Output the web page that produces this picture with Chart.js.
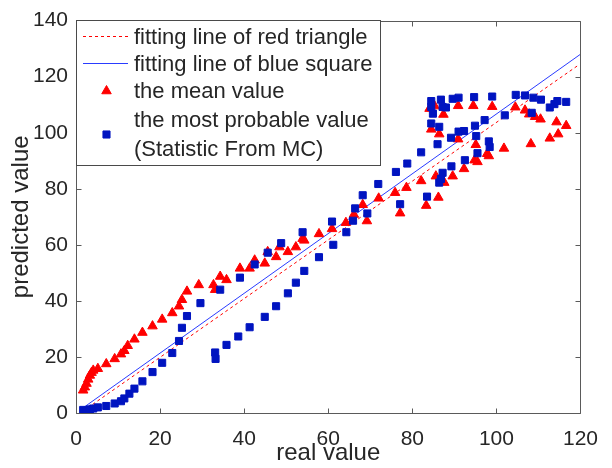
<!DOCTYPE html>
<html>
<head>
<meta charset="utf-8">
<title>predicted vs real value</title>
<script src="https://cdn.jsdelivr.net/npm/chart.js@4.4.1/dist/chart.umd.min.js"></script>
<style>
  html, body { margin: 0; padding: 0; background: #fff; }
  #wrap { width: 612px; height: 468px; }
</style>
</head>
<body>
<div id="wrap"><canvas id="chart" width="612" height="468"></canvas></div>
<script>
/* ── predicted vs real value – scatter with fitting lines ──── */

// ── Data ──────────────────────────────────────────────────────
// red triangles: the mean value
const meanX = [1.7, 2.1, 2.5, 2.9, 3.3, 3.7, 4.1, 5.2, 7.2, 9.2, 10.7, 11.5, 12.3, 13.9, 15.8,
  18.2, 20.5, 22.9, 24.5, 25.2, 26.4, 29.2, 32.7, 33.1, 34.3, 35.8, 39, 41.3, 42.5, 44.9,
  45.6, 47.6, 48.4, 50.4, 52.3, 53.9, 54.3, 57.8, 60.9, 64.2, 66.1, 68.2, 69.2, 72, 75.9,
  77.1, 78.6, 82.1, 83.3, 85.6, 86.2, 87.6, 89.6, 92.3, 94.8, 95.5, 97.8, 98.2, 101.8, 95.1,
  90.9, 84.5, 86.4, 84.1, 85.3, 87.4, 90.9, 94.5, 99, 104.5, 106.8, 107.8, 109.2, 110.5,
  108.2, 112.7, 114.3, 114.7, 116.6];
const meanY = [8.1, 9.2, 10.5, 12, 13.4, 14.4, 15.2, 15.8, 17.5, 19.3, 21, 22.2, 24, 26.3, 28.7,
  31, 33.4, 35.7, 38.1, 40.4, 43.4, 45.7, 45.7, 44, 48.7, 47.5, 51.6, 51.6, 54.5, 53.4,
  57.5, 55.7, 59.2, 57.5, 59.2, 62.2, 61.6, 63.9, 65.7, 67.9, 70.8, 74.3, 68.5, 76.6, 78.6,
  71.3, 80.4, 82.8, 74, 84.5, 76.9, 82.2, 84.5, 87.1, 90.2, 89.6, 92.5, 91.7, 94.4, 95.7,
  97.7, 101.2, 99.5, 108.6, 109.5, 106.5, 109.6, 109.6, 109.3, 109.1, 108, 106.6, 105.7, 104.8,
  96, 98, 103.8, 99.5, 102.5];

// blue squares: the most probable value
const probX = [1.7, 2.5, 3.3, 4.1, 5.2, 7.2, 9.2, 10.7, 11.5, 12.7, 13.9, 15.8, 18.2, 20.5, 22.9,
  24.5, 25.2, 26.4, 29.6, 33.1, 33.2, 34.3, 35.8, 38.6, 39, 41.3, 42.5, 44.9, 45.6, 47.6,
  48.8, 50.4, 52.3, 53.9, 54.3, 57.8, 60.9, 61.2, 64.3, 65.9, 66.4, 69.3, 68.2, 71.9, 77.1,
  76.1, 78.8, 82.1, 83.5, 86.4, 86.8, 87.2, 89.3, 86, 89.2, 84.5, 86.4, 84.9, 84.5, 87.2,
  84.5, 86.8, 89.6, 88, 91, 94.7, 99, 104.6, 106.8, 108.8, 110.6, 112.7, 113.8, 114.5, 116.6,
  108.4, 102, 97.2, 94.9, 92.3, 91, 95.2, 98.2, 98.4, 95.5, 92.5];
const probY = [1.1, 0.8, 1.3, 1.6, 2, 2.5, 3.4, 4.2, 5.2, 6.9, 8.7, 11.3, 14.6, 17.9, 21.4,
  25.7, 30.4, 34.6, 39.2, 21.6, 19.3, 44, 24.3, 27.3, 48.3, 30.6, 53, 34.3, 57.2, 38.1,
  60.6, 42.7, 46.5, 64.5, 50.7, 55.6, 68.3, 60, 64.5, 68.6, 73, 71.2, 77.7, 81.7, 74.5,
  86, 89, 93, 77.2, 82.2, 83.5, 85.7, 88, 95.9, 98.2, 103.3, 102.1, 106.8, 109.2, 109.2,
  111.3, 111.8, 112.1, 109, 112.5, 112.7, 112.9, 113.5, 113.3, 112.5, 111.8, 109, 110.2, 111.3, 111,
  107.1, 106.2, 104.5, 102.5, 100.6, 100.4, 98.8, 96.9, 94.9, 92.7, 90.2];

// fitting lines (end points)
const fitRedX  = [1.6, 119.6];
const fitRedY  = [0.6, 124.2];
const fitBlueX = [0.9, 120];
const fitBlueY = [1.0, 128];

// axes
const xTicks = [0, 20, 40, 60, 80, 100, 120];
const yTicks = [0, 20, 40, 60, 80, 100, 120, 140];
const xTitle = 'real value';
const yTitle = 'predicted value';

const legendLabels = [
  ['fitting line of red triangle'],
  ['fitting line of blue square'],
  ['the mean value'],
  ['the most probable value', '(Statistic From MC)'],
];

// ── Styles ────────────────────────────────────────────────────
const FONT       = "'Liberation Sans', Arial, sans-serif";
const TEXT_COLOR = '#262626';
const AXIS_COLOR = '#5a5a5a';
const RED        = '#ff0000';
const BLUE       = '#0014c0';
const BLUE_LINE  = '#2a3cff';
const TRI_R      = 5.5;
const SQ_R       = 5;

const toPoints = (xs, ys) => xs.map((x, i) => ({ x, y: ys[i] }));

// ── Box + inward ticks (MATLAB style) ─────────────────────────
const framePlugin = {
  id: 'frame',
  afterDatasetsDraw(chart) {
    const { ctx, chartArea: a, scales: { x, y } } = chart;
    const L = Math.round(a.left) + 0.5, R = Math.round(a.right) + 0.5;
    const T = Math.round(a.top) + 0.5,  B = Math.round(a.bottom) + 0.5;
    const len = 5;
    ctx.save();
    ctx.strokeStyle = AXIS_COLOR;
    ctx.lineWidth = 1;
    ctx.beginPath();
    ctx.rect(L, T, R - L, B - T);
    xTicks.forEach((v) => {
      const px = Math.round(x.getPixelForValue(v)) + 0.5;
      ctx.moveTo(px, B); ctx.lineTo(px, B - len);
      ctx.moveTo(px, T); ctx.lineTo(px, T + len);
    });
    yTicks.forEach((v) => {
      const py = Math.round(y.getPixelForValue(v)) + 0.5;
      ctx.moveTo(L, py); ctx.lineTo(L + len, py);
      ctx.moveTo(R, py); ctx.lineTo(R - len, py);
    });
    ctx.stroke();
    ctx.restore();
  },
};

// ── Legend box (top-left, drawn over the data) ────────────────
const legendPlugin = {
  id: 'boxLegend',
  afterDraw(chart) {
    const { ctx } = chart;
    const box = { x: 76.5, y: 20.5, w: 304, h: 145 };
    const sx0 = 83, sx1 = 128, mx = 106.5, tx = 134;
    const rows = [38, 65, 92, 121, 150];

    ctx.save();
    ctx.fillStyle = '#fff';
    ctx.fillRect(box.x, box.y, box.w, box.h);
    ctx.strokeStyle = '#4a4a4a';
    ctx.lineWidth = 1;
    ctx.strokeRect(box.x, box.y, box.w, box.h);

    // line samples
    ctx.lineWidth = 1;
    ctx.strokeStyle = RED;
    ctx.setLineDash([3, 3]);
    ctx.beginPath(); ctx.moveTo(sx0, rows[0] - 1.5); ctx.lineTo(sx1, rows[0] - 1.5); ctx.stroke();
    ctx.setLineDash([]);
    ctx.strokeStyle = BLUE_LINE;
    ctx.beginPath(); ctx.moveTo(sx0, rows[1] - 1.5); ctx.lineTo(sx1, rows[1] - 1.5); ctx.stroke();

    // marker samples
    ctx.fillStyle = RED; ctx.strokeStyle = RED;
    Chart.helpers.drawPoint(ctx, { pointStyle: 'triangle', radius: TRI_R, rotation: 0, borderWidth: 1 }, mx, rows[2] - 1);
    ctx.fillStyle = BLUE; ctx.strokeStyle = BLUE;
    Chart.helpers.drawPoint(ctx, { pointStyle: 'rect', radius: SQ_R, rotation: 0, borderWidth: 1 }, mx, (rows[3] + rows[4]) / 2 - 1);

    // labels
    ctx.fillStyle = TEXT_COLOR;
    ctx.font = `22px ${FONT}`;
    ctx.textAlign = 'left';
    ctx.textBaseline = 'middle';
    let r = 0;
    legendLabels.forEach((lines) => {
      lines.forEach((t) => ctx.fillText(t, tx, rows[r++]));
    });
    ctx.restore();
  },
};

// ── Chart ─────────────────────────────────────────────────────
const ctx = document.getElementById('chart').getContext('2d');

new Chart(ctx, {
  type: 'scatter',
  data: {
    datasets: [
      {
        label: legendLabels[3].join(' '),
        data: toPoints(probX, probY),
        pointStyle: 'rect',
        pointRadius: SQ_R,
        backgroundColor: BLUE,
        borderColor: BLUE,
        borderWidth: 1,
      },
      {
        label: legendLabels[2][0],
        data: toPoints(meanX, meanY),
        pointStyle: 'triangle',
        pointRadius: TRI_R,
        backgroundColor: RED,
        borderColor: RED,
        borderWidth: 1,
      },
      {
        type: 'line',
        label: legendLabels[1][0],
        data: toPoints(fitBlueX, fitBlueY),
        borderColor: BLUE_LINE,
        borderWidth: 1,
        pointRadius: 0,
        fill: false,
      },
      {
        type: 'line',
        label: legendLabels[0][0],
        data: toPoints(fitRedX, fitRedY),
        borderColor: RED,
        borderWidth: 1,
        borderDash: [3, 3],
        pointRadius: 0,
        fill: false,
      },
    ],
  },
  options: {
    responsive: false,
    animation: false,
    layout: { padding: { left: 0, right: 25, top: 16, bottom: 0 } },
    plugins: {
      legend: { display: false },
      tooltip: { enabled: false },
    },
    scales: {
      x: {
        type: 'linear',
        min: 0,
        max: 120,
        afterBuildTicks: (s) => { s.ticks = xTicks.map((v) => ({ value: v })); },
        afterFit: (s) => { s.height = 55; },
        grid: { display: false, drawTicks: false },
        border: { display: false },
        ticks: {
          padding: 14,
          color: TEXT_COLOR,
          font: { family: FONT, size: 21 },
          maxRotation: 0,
        },
        title: {
          display: true,
          text: xTitle,
          color: TEXT_COLOR,
          font: { family: FONT, size: 24, lineHeight: 1.1 },
          padding: { top: 0, bottom: 1 },
        },
      },
      y: {
        type: 'linear',
        min: 0,
        max: 140,
        afterBuildTicks: (s) => { s.ticks = yTicks.map((v) => ({ value: v })); },
        afterFit: (s) => { s.width = 76; },
        grid: { display: false, drawTicks: false },
        border: { display: false },
        ticks: {
          padding: 8,
          color: TEXT_COLOR,
          font: { family: FONT, size: 21 },
        },
        title: {
          display: true,
          text: yTitle,
          color: TEXT_COLOR,
          font: { family: FONT, size: 24, lineHeight: 1.1 },
          padding: { top: 8, bottom: 0 },
        },
      },
    },
  },
  plugins: [framePlugin, legendPlugin],
});
</script>
</body>
</html>
